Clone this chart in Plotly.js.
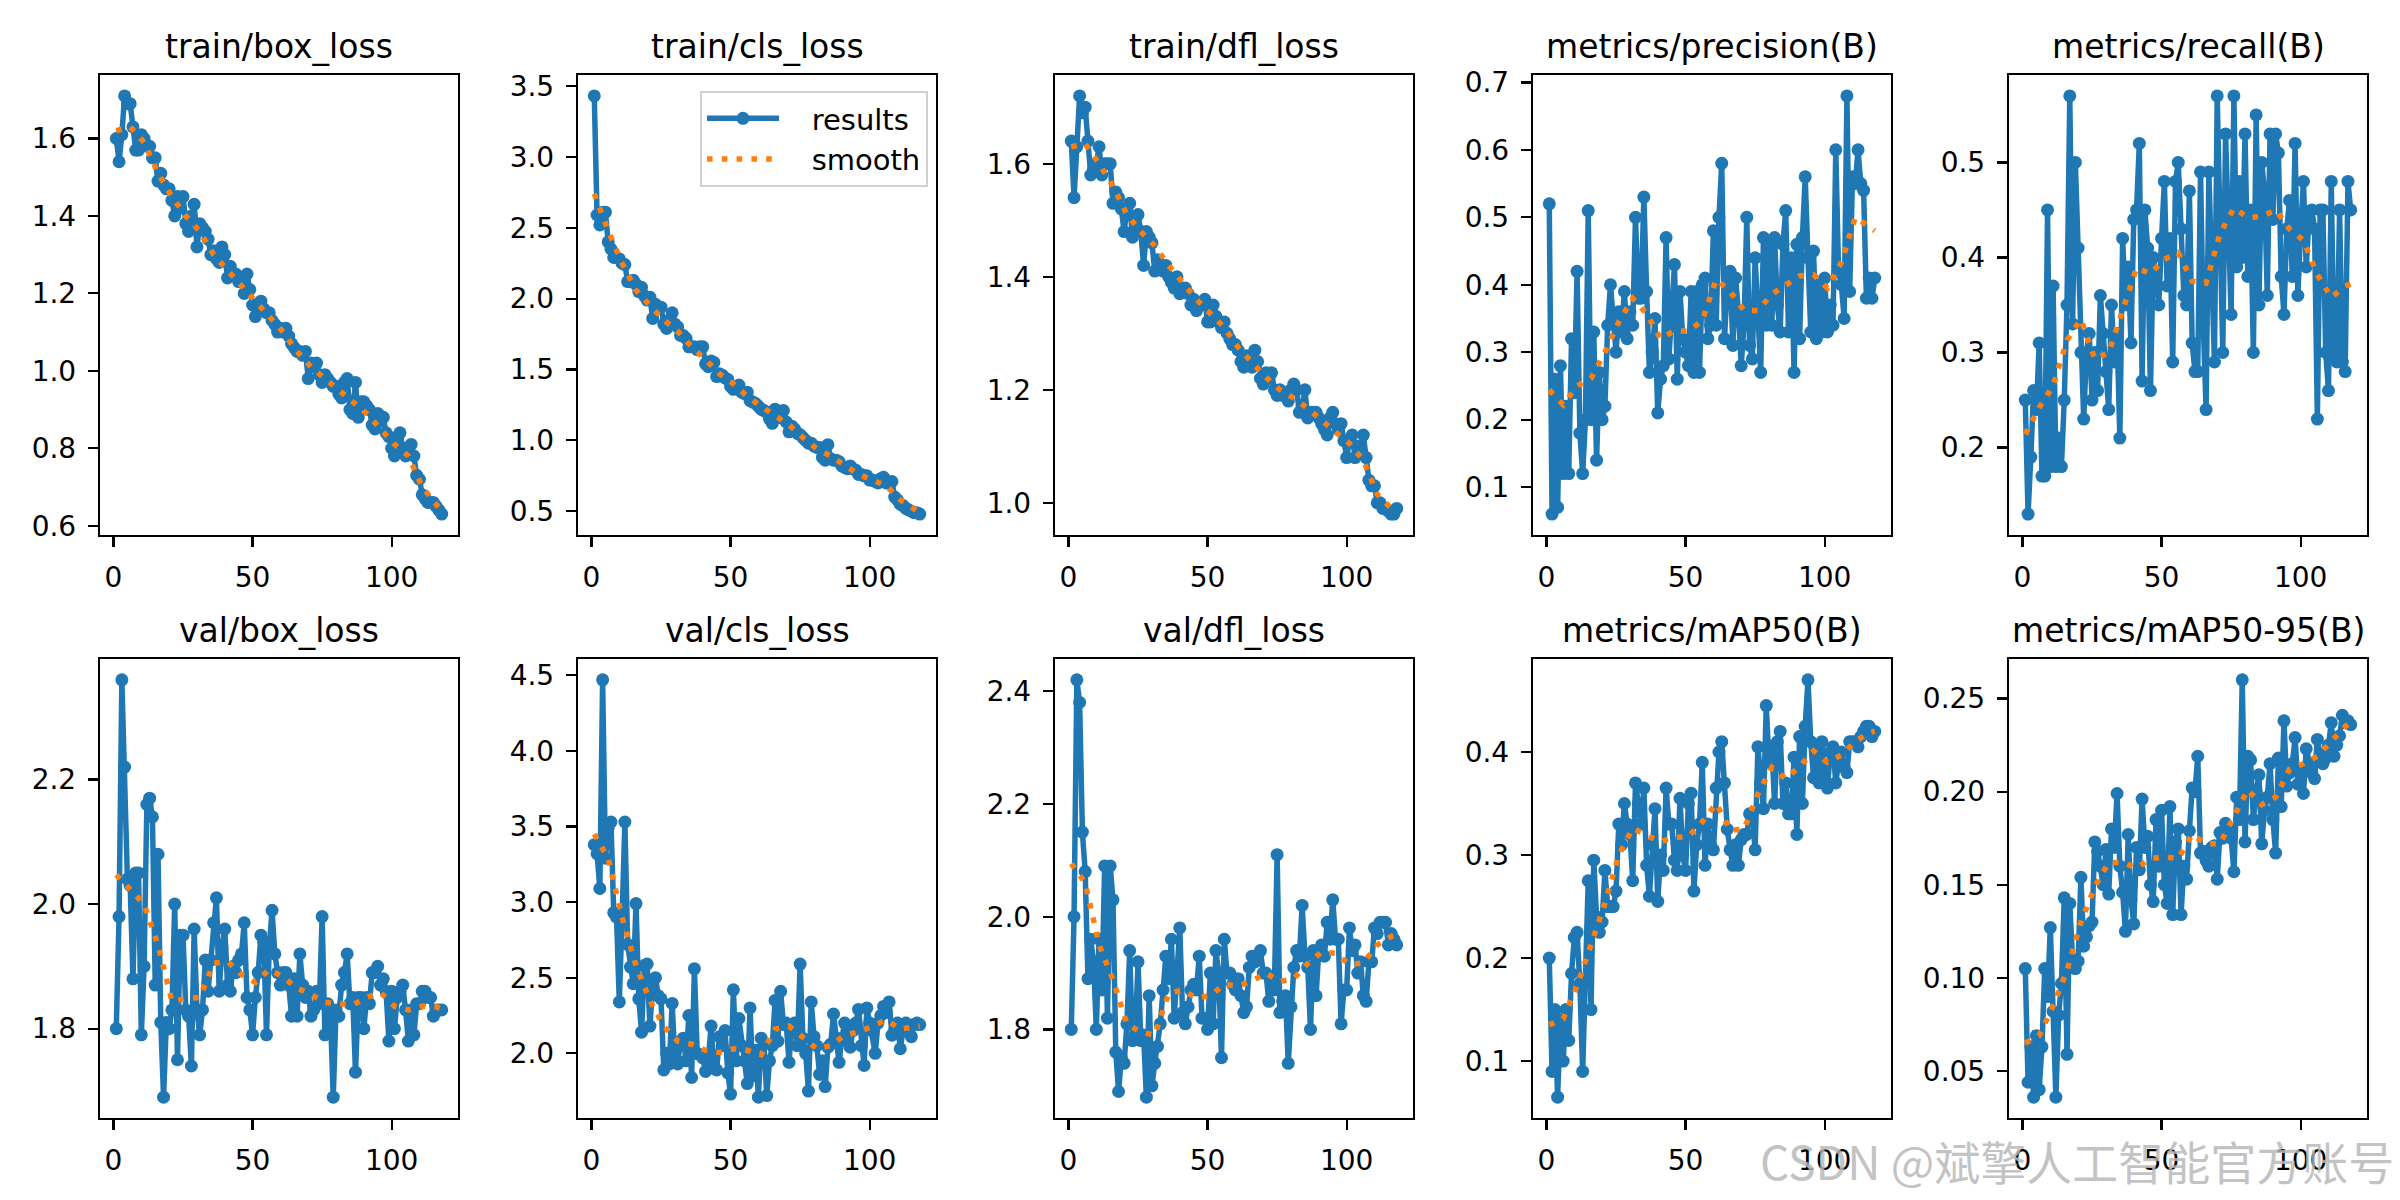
<!DOCTYPE html>
<html>
<head>
<meta charset="utf-8">
<script src="https://cdn.plot.ly/plotly-3.0.1.min.js"></script>
<style>
  html, body { margin: 0; padding: 0; background: #ffffff; }
  #chart { width: 2400px; height: 1200px; }
</style>
</head>
<body>
<div id="chart"></div>
<script>
// ---------------- data ----------------
const epochs = [
  1,2,3,4,5,6,7,8,9,10,11,12,13,14,15,16,17,18,19,20,
  21,22,23,24,25,26,27,28,29,30,31,32,33,34,35,36,37,38,39,40,
  41,42,43,44,45,46,47,48,49,50,51,52,53,54,55,56,57,58,59,60,
  61,62,63,64,65,66,67,68,69,70,71,72,73,74,75,76,77,78,79,80,
  81,82,83,84,85,86,87,88,89,90,91,92,93,94,95,96,97,98,99,100,
  101,102,103,104,105,106,107,108,109,110,111,112,113,114,115,116,117,118
];

const smoothEpochs = [1,6,11,16,21,26,31,36,41,46,51,56,61,66,71,76,81,86,91,96,101,106,111,116,118];

const panelTitles = [
  "train/box_loss", "train/cls_loss", "train/dfl_loss", "metrics/precision(B)", "metrics/recall(B)",
  "val/box_loss", "val/cls_loss", "val/dfl_loss", "metrics/mAP50(B)", "metrics/mAP50-95(B)"
];

const legendNames = ["results", "smooth"];
const watermarkText = "CSDN @斌擎人工智能官方账号";

const xTickVals = [0, 50, 100];

const yTickVals1 = [0.6, 0.8, 1.0, 1.2, 1.4, 1.6];
const yTickVals2 = [0.5, 1.0, 1.5, 2.0, 2.5, 3.0, 3.5];
const yTickVals3 = [1.0, 1.2, 1.4, 1.6];
const yTickVals4 = [0.1, 0.2, 0.3, 0.4, 0.5, 0.6, 0.7];
const yTickVals5 = [0.2, 0.3, 0.4, 0.5];
const yTickVals6 = [1.8, 2.0, 2.2];
const yTickVals7 = [2.0, 2.5, 3.0, 3.5, 4.0, 4.5];
const yTickVals8 = [1.8, 2.0, 2.2, 2.4];
const yTickVals9 = [0.1, 0.2, 0.3, 0.4];
const yTickVals10 = [0.05, 0.10, 0.15, 0.20, 0.25];

const trainBox = [
  1.60,1.54,1.61,1.71,1.69,1.69,1.63,1.57,1.57,1.61,
  1.60,1.58,1.58,1.55,1.55,1.49,1.51,1.48,1.47,1.47,
  1.44,1.40,1.45,1.42,1.45,1.38,1.36,1.40,1.43,1.32,
  1.38,1.37,1.36,1.34,1.30,1.31,1.29,1.28,1.32,1.30,
  1.24,1.27,1.25,1.25,1.23,1.24,1.20,1.25,1.21,1.17,
  1.14,1.17,1.18,1.16,1.15,1.15,1.13,1.12,1.10,1.11,
  1.10,1.11,1.09,1.07,1.06,1.05,1.05,1.04,1.05,0.98,
  1.02,1.01,1.02,0.99,0.97,0.99,0.98,0.97,0.96,0.96,
  0.94,0.93,0.97,0.98,0.90,0.89,0.97,0.88,0.92,0.92,
  0.91,0.90,0.86,0.85,0.89,0.87,0.88,0.84,0.83,0.80,
  0.78,0.83,0.84,0.80,0.78,0.80,0.81,0.78,0.73,0.72,
  0.68,0.67,0.66,0.66,0.66,0.65,0.64,0.63
];
const trainCls = [
  3.43,2.59,2.52,2.61,2.61,2.40,2.35,2.29,2.29,2.28,
  2.25,2.24,2.12,2.12,2.13,2.10,2.05,2.08,2.02,1.99,
  2.01,1.86,1.96,1.94,1.94,1.82,1.79,1.85,1.90,1.82,
  1.80,1.74,1.74,1.72,1.66,1.66,1.66,1.64,1.66,1.66,
  1.54,1.52,1.56,1.55,1.45,1.47,1.46,1.44,1.43,1.38,
  1.36,1.37,1.39,1.34,1.33,1.34,1.28,1.27,1.26,1.24,
  1.22,1.21,1.20,1.15,1.12,1.22,1.20,1.16,1.21,1.13,
  1.06,1.10,1.08,1.05,1.04,1.02,1.00,0.98,0.98,0.96,
  0.95,0.95,0.88,0.86,0.97,0.87,0.86,0.86,0.85,0.82,
  0.81,0.80,0.82,0.80,0.79,0.76,0.76,0.75,0.75,0.72,
  0.72,0.71,0.70,0.73,0.74,0.70,0.70,0.71,0.60,0.58,
  0.55,0.54,0.52,0.51,0.50,0.49,0.49,0.48
];
const trainDfl = [
  1.64,1.54,1.63,1.72,1.69,1.70,1.64,1.58,1.59,1.60,
  1.63,1.58,1.60,1.60,1.60,1.53,1.55,1.54,1.52,1.48,
  1.52,1.53,1.47,1.48,1.51,1.48,1.42,1.48,1.47,1.46,
  1.41,1.43,1.42,1.41,1.42,1.40,1.39,1.38,1.40,1.37,
  1.38,1.38,1.37,1.35,1.36,1.34,1.35,1.35,1.36,1.32,
  1.32,1.35,1.33,1.32,1.31,1.32,1.30,1.29,1.28,1.28,
  1.27,1.25,1.24,1.26,1.25,1.24,1.27,1.25,1.22,1.21,
  1.23,1.22,1.23,1.20,1.19,1.20,1.19,1.19,1.18,1.20,
  1.21,1.20,1.16,1.17,1.20,1.15,1.16,1.16,1.16,1.15,
  1.14,1.13,1.12,1.15,1.16,1.14,1.13,1.14,1.11,1.08,
  1.11,1.12,1.08,1.10,1.09,1.12,1.08,1.04,1.03,1.03,
  1.00,1.00,0.99,0.99,0.985,0.98,0.98,0.99
];
const precision = [
  0.52,0.06,0.26,0.07,0.28,0.12,0.22,0.12,0.32,0.24,
  0.42,0.18,0.12,0.20,0.51,0.20,0.33,0.14,0.27,0.20,
  0.22,0.34,0.40,0.35,0.30,0.36,0.33,0.39,0.32,0.36,
  0.34,0.50,0.38,0.38,0.53,0.39,0.27,0.30,0.35,0.21,
  0.26,0.28,0.47,0.29,0.35,0.43,0.26,0.39,0.32,0.30,
  0.28,0.39,0.27,0.39,0.27,0.40,0.41,0.32,0.34,0.48,
  0.34,0.50,0.58,0.32,0.40,0.42,0.31,0.41,0.36,0.28,
  0.34,0.50,0.31,0.29,0.44,0.36,0.27,0.47,0.34,0.46,
  0.34,0.47,0.37,0.33,0.46,0.51,0.33,0.44,0.27,0.46,
  0.32,0.47,0.56,0.44,0.33,0.45,0.32,0.40,0.33,0.41,
  0.33,0.37,0.34,0.60,0.42,0.40,0.35,0.68,0.39,0.56,
  0.55,0.60,0.55,0.54,0.38,0.41,0.38,0.41
];
const recall = [
  0.25,0.13,0.19,0.26,0.24,0.31,0.17,0.17,0.45,0.18,
  0.37,0.18,0.21,0.18,0.25,0.35,0.57,0.33,0.50,0.41,
  0.30,0.23,0.30,0.32,0.25,0.30,0.26,0.36,0.32,0.28,
  0.24,0.35,0.29,0.32,0.21,0.42,0.35,0.39,0.31,0.44,
  0.45,0.52,0.27,0.45,0.41,0.26,0.40,0.38,0.35,0.42,
  0.48,0.37,0.42,0.29,0.48,0.50,0.43,0.36,0.35,0.47,
  0.31,0.28,0.28,0.49,0.33,0.24,0.49,0.40,0.29,0.57,
  0.40,0.30,0.53,0.45,0.34,0.57,0.39,0.48,0.40,0.53,
  0.38,0.45,0.30,0.55,0.35,0.50,0.47,0.36,0.53,0.44,
  0.53,0.51,0.38,0.34,0.43,0.46,0.38,0.52,0.36,0.43,
  0.48,0.39,0.44,0.45,0.43,0.23,0.45,0.45,0.30,0.26,
  0.48,0.30,0.29,0.45,0.29,0.28,0.48,0.45
];
const valBox = [
  1.80,1.98,2.36,2.22,2.04,2.03,1.88,2.05,2.05,1.79,
  1.90,2.16,2.17,2.14,1.87,2.08,1.81,1.69,1.81,1.80,
  1.83,2.00,1.75,1.95,1.95,1.83,1.82,1.74,1.96,1.83,
  1.79,1.83,1.91,1.86,1.91,1.97,2.01,1.86,1.93,1.96,
  1.87,1.86,1.90,1.89,1.91,1.92,1.97,1.85,1.83,1.79,
  1.85,1.89,1.95,1.94,1.79,1.93,1.99,1.92,1.89,1.87,
  1.89,1.89,1.87,1.82,1.88,1.82,1.92,1.87,1.85,1.86,
  1.82,1.83,1.86,1.84,1.98,1.79,1.84,1.82,1.69,1.83,
  1.82,1.87,1.89,1.92,1.84,1.85,1.73,1.85,1.85,1.80,
  1.85,1.84,1.89,1.89,1.90,1.87,1.88,1.86,1.78,1.86,
  1.80,1.85,1.86,1.87,1.83,1.78,1.83,1.79,1.84,1.84,
  1.86,1.86,1.85,1.85,1.82,1.83,1.83,1.83
];
const valCls = [
  3.38,3.32,3.09,4.47,3.29,3.49,3.53,2.93,2.90,2.34,
  2.90,3.53,2.72,2.57,2.46,2.99,2.36,2.14,2.58,2.59,
  2.18,2.45,2.50,2.38,2.36,1.89,2.00,1.93,2.33,1.95,
  1.93,2.08,2.10,1.95,2.25,1.84,2.56,2.00,1.99,1.97,
  1.88,1.96,2.18,1.90,1.89,2.11,2.05,2.15,1.87,1.73,
  2.42,1.95,2.23,2.05,1.95,1.80,2.30,1.85,2.02,1.71,
  2.10,2.06,1.72,1.95,2.05,2.35,2.08,2.41,2.19,2.20,
  1.94,2.18,2.20,2.05,2.59,2.10,2.00,1.75,2.34,2.11,
  2.05,1.86,1.95,1.78,2.04,2.06,2.26,2.10,1.94,2.10,
  2.20,2.08,2.04,2.15,2.20,2.29,2.05,1.92,2.30,2.20,
  2.15,2.00,2.20,2.25,2.31,2.27,2.34,2.12,2.15,2.20,
  2.03,2.15,2.20,2.15,2.11,2.19,2.20,2.19
];
const valDfl = [
  1.80,2.00,2.42,2.38,2.15,2.08,1.89,1.96,1.92,1.80,
  1.96,1.87,2.09,1.82,2.09,2.03,1.76,1.69,1.75,1.74,
  1.81,1.94,1.78,1.79,1.92,1.78,1.79,1.68,1.86,1.70,
  1.74,1.77,1.81,1.87,1.93,1.89,1.96,1.82,1.90,1.98,
  1.83,1.81,1.84,1.87,1.88,1.87,1.93,1.82,1.82,1.80,
  1.90,1.81,1.94,1.90,1.75,1.96,1.90,1.90,1.88,1.87,
  1.89,1.86,1.83,1.84,1.91,1.93,1.92,1.93,1.94,1.90,
  1.90,1.85,1.88,1.87,2.11,1.83,1.85,1.86,1.74,1.84,
  1.91,1.94,1.93,2.02,1.93,1.91,1.80,1.94,1.86,1.94,
  1.95,1.93,1.99,1.96,2.03,1.96,1.96,1.81,1.87,1.87,
  1.98,1.94,1.95,1.90,1.92,1.86,1.85,1.92,1.92,1.98,
  1.97,1.99,1.99,1.99,1.95,1.97,1.96,1.95
];
const map50 = [
  0.20,0.09,0.15,0.065,0.14,0.10,0.15,0.12,0.185,0.22,
  0.225,0.175,0.09,0.18,0.275,0.15,0.295,0.24,0.225,0.235,
  0.285,0.25,0.25,0.25,0.265,0.33,0.31,0.35,0.33,0.32,
  0.275,0.37,0.35,0.33,0.365,0.29,0.26,0.31,0.345,0.255,
  0.30,0.285,0.365,0.33,0.33,0.295,0.285,0.355,0.30,0.285,
  0.35,0.36,0.265,0.31,0.33,0.39,0.29,0.33,0.31,0.305,
  0.365,0.40,0.41,0.37,0.325,0.305,0.29,0.31,0.29,0.315,
  0.32,0.32,0.34,0.34,0.305,0.405,0.37,0.345,0.445,0.39,
  0.405,0.35,0.41,0.42,0.35,0.37,0.34,0.34,0.395,0.32,
  0.415,0.35,0.425,0.47,0.41,0.375,0.405,0.37,0.41,0.38,
  0.365,0.40,0.405,0.37,0.39,0.40,0.385,0.38,0.41,0.41,
  0.41,0.405,0.415,0.42,0.425,0.425,0.415,0.42
];
const map5095 = [
  0.105,0.044,0.063,0.036,0.069,0.040,0.063,0.105,0.090,0.127,
  0.082,0.036,0.080,0.097,0.143,0.059,0.140,0.110,0.105,0.109,
  0.154,0.117,0.122,0.128,0.130,0.173,0.168,0.160,0.150,0.169,
  0.145,0.180,0.170,0.199,0.160,0.146,0.125,0.177,0.142,0.129,
  0.170,0.158,0.196,0.170,0.176,0.150,0.141,0.185,0.160,0.190,
  0.150,0.140,0.192,0.134,0.173,0.180,0.134,0.160,0.153,0.179,
  0.202,0.200,0.219,0.167,0.168,0.163,0.160,0.170,0.171,0.153,
  0.178,0.175,0.183,0.180,0.175,0.157,0.197,0.185,0.260,0.173,
  0.219,0.217,0.185,0.200,0.209,0.172,0.190,0.197,0.215,0.185,
  0.167,0.218,0.192,0.238,0.203,0.210,0.215,0.229,0.204,0.210,
  0.199,0.223,0.215,0.210,0.207,0.228,0.220,0.215,0.218,0.225,
  0.237,0.219,0.225,0.230,0.241,0.237,0.238,0.236
];

// smooth curves at smoothEpochs
const smoothTrainBox = [1.62,1.63,1.59,1.51,1.45,1.40,1.36,1.30,1.26,1.22,1.18,1.14,1.10,1.05,1.01,0.98,0.95,0.92,0.89,0.85,0.81,0.78,0.70,0.655,0.64];
const smoothTrainCls = [2.74,2.48,2.25,2.06,1.95,1.85,1.77,1.66,1.57,1.47,1.40,1.31,1.24,1.17,1.11,1.02,0.94,0.89,0.83,0.76,0.72,0.68,0.58,0.51,0.49];
const smoothTrainDfl = [1.63,1.635,1.60,1.56,1.51,1.48,1.455,1.42,1.39,1.36,1.335,1.31,1.275,1.247,1.222,1.20,1.185,1.167,1.145,1.125,1.105,1.075,1.015,0.99,0.99];
const smoothPrecision = [0.244,0.222,0.25,0.261,0.30,0.345,0.38,0.357,0.32,0.332,0.331,0.347,0.408,0.39,0.362,0.362,0.386,0.40,0.413,0.415,0.395,0.433,0.50,0.486,0.48];
const smoothRecall = [0.214,0.242,0.265,0.313,0.335,0.293,0.30,0.343,0.389,0.383,0.398,0.405,0.375,0.373,0.425,0.452,0.442,0.443,0.45,0.43,0.418,0.382,0.358,0.37,0.372];
const smoothValBox = [2.047,2.025,2.00,1.934,1.844,1.848,1.85,1.905,1.908,1.887,1.874,1.895,1.883,1.865,1.855,1.842,1.84,1.838,1.85,1.858,1.836,1.83,1.836,1.835,1.832];
const smoothValCls = [3.45,3.29,2.90,2.58,2.35,2.18,2.08,2.06,2.02,2.005,2.03,2.02,1.99,2.16,2.18,2.11,2.03,2.05,2.12,2.14,2.18,2.22,2.16,2.18,2.18];
const smoothValDfl = [2.094,2.06,1.95,1.888,1.81,1.795,1.79,1.864,1.87,1.856,1.86,1.88,1.877,1.886,1.90,1.885,1.89,1.917,1.937,1.935,1.915,1.918,1.95,1.965,1.967];
const smoothMap50 = [0.135,0.141,0.173,0.213,0.253,0.30,0.326,0.319,0.313,0.317,0.318,0.332,0.35,0.324,0.325,0.359,0.385,0.374,0.386,0.401,0.39,0.397,0.41,0.419,0.42];
const smoothMap5095 = [0.065,0.069,0.085,0.104,0.13,0.149,0.162,0.162,0.159,0.164,0.165,0.164,0.177,0.172,0.172,0.187,0.201,0.193,0.197,0.212,0.215,0.219,0.227,0.235,0.237];

// ---------------- chart assembly ----------------
const resultsSeries = [trainBox, trainCls, trainDfl, precision, recall, valBox, valCls, valDfl, map50, map5095];
const smoothSeries = [smoothTrainBox, smoothTrainCls, smoothTrainDfl, smoothPrecision, smoothRecall,
                      smoothValBox, smoothValCls, smoothValDfl, smoothMap50, smoothMap5095];
const yTickSets = [yTickVals1, yTickVals2, yTickVals3, yTickVals4, yTickVals5,
                   yTickVals6, yTickVals7, yTickVals8, yTickVals9, yTickVals10];
const yTickFormats = ['.1f','.1f','.1f','.1f','.1f','.1f','.1f','.1f','.1f','.2f'];

const W = 2400, H = 1200;
const colPx = [[100,458],[578,936],[1055,1413],[1533,1891],[2009,2367]];
const rowPx = [[75,535],[659,1118]];
const titleCenterPx = [46, 630];
const FONT = 'DejaVu Sans, Liberation Sans, Arial, sans-serif';
const BLUE = '#1f77b4', ORANGE = '#ff7f0e';
const LEGEND_GAP = '\u00a0\u00a0\u00a0';

const traces = [];
const layout = {
  width: W, height: H,
  margin: {l: 0, r: 0, t: 0, b: 0},
  paper_bgcolor: '#ffffff',
  plot_bgcolor: '#ffffff',
  showlegend: true,
  font: {family: FONT, size: 28, color: '#000000'},
  legend: {
    x: 700 / W, y: 1 - 91 / H, xanchor: 'left', yanchor: 'top',
    bgcolor: 'rgba(255,255,255,0.8)', bordercolor: '#d0d0d0', borderwidth: 2,
    font: {family: FONT, size: 29, color: '#000000'},
    itemwidth: 72, tracegroupgap: 0
  },
  annotations: []
};

for (let i = 0; i < 10; i++) {
  const n = i + 1;
  const xa = 'x' + (n === 1 ? '' : n);
  const ya = 'y' + (n === 1 ? '' : n);
  const col = colPx[i % 5], row = rowPx[Math.floor(i / 5)];

  traces.push({
    x: epochs, y: resultsSeries[i], xaxis: xa, yaxis: ya,
    type: 'scatter', mode: 'lines+markers', name: LEGEND_GAP + legendNames[0],
    line: {color: BLUE, width: 5.5},
    marker: {color: BLUE, size: 13, line: {width: 0}},
    showlegend: i === 1, hoverinfo: 'skip'
  });
  traces.push({
    x: smoothEpochs, y: smoothSeries[i], xaxis: xa, yaxis: ya,
    type: 'scatter', mode: 'lines', name: LEGEND_GAP + legendNames[1],
    line: {color: ORANGE, width: 5.5, dash: '5.6px,9.2px'},
    showlegend: i === 1, hoverinfo: 'skip'
  });

  // auto-range like matplotlib (5% margins)
  const ys = resultsSeries[i].concat(smoothSeries[i]);
  const ymin = Math.min.apply(null, ys), ymax = Math.max.apply(null, ys);
  const pad = (ymax - ymin) * 0.05;
  const xmin = epochs[0], xmax = epochs[epochs.length - 1];
  const xpad = (xmax - xmin) * 0.05;

  const common = {
    showgrid: false, zeroline: false,
    showline: true, mirror: true, linecolor: '#000000', linewidth: 2.2,
    ticks: 'outside', ticklen: 10, tickwidth: 2.2, tickcolor: '#000000',
    tickfont: {family: FONT, size: 28, color: '#000000'},
    ticklabelstandoff: 6,
    fixedrange: true
  };
  layout['xaxis' + (n === 1 ? '' : n)] = Object.assign({}, common, {
    domain: [col[0] / W, col[1] / W], anchor: ya,
    range: [xmin - xpad, xmax + xpad],
    tickmode: 'array', tickvals: xTickVals, ticktext: xTickVals.map(String)
  });
  layout['yaxis' + (n === 1 ? '' : n)] = Object.assign({}, common, {
    domain: [1 - row[1] / H, 1 - row[0] / H], anchor: xa,
    range: [ymin - pad, ymax + pad],
    tickmode: 'array', tickvals: yTickSets[i], tickformat: yTickFormats[i]
  });

  layout.annotations.push({
    text: panelTitles[i], xref: 'paper', yref: 'paper',
    x: (col[0] + col[1]) / 2 / W, y: 1 - titleCenterPx[Math.floor(i / 5)] / H,
    xanchor: 'center', yanchor: 'middle', showarrow: false,
    font: {family: FONT, size: 33, color: '#000000'}
  });
}

layout.annotations.push({
  text: watermarkText, xref: 'paper', yref: 'paper',
  x: 2396 / W, y: 1 - 1160 / H, xanchor: 'right', yanchor: 'middle', showarrow: false,
  font: {family: 'Noto Sans CJK SC, Noto Sans, sans-serif', size: 46, color: 'rgba(185,185,185,0.85)'}
});

Plotly.newPlot('chart', traces, layout, {displayModeBar: false, staticPlot: true});
</script>
</body>
</html>
